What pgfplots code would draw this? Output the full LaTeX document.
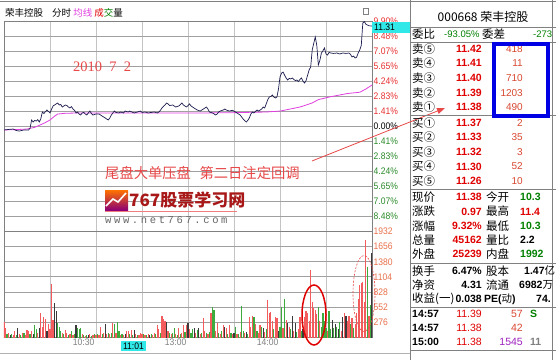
\documentclass[border=0pt]{standalone}
\usepackage{pgfplots}
\pgfplotsset{compat=1.18}
\usepackage{fontspec}
\setmainfont{Liberation Sans}
\newfontfamily\cjk{Noto Sans CJK SC}
\newfontfamily\narrow[FakeStretch=0.9]{Liberation Sans}
\newfontfamily\tms{Liberation Serif}
\newfontfamily\spmono[LetterSpace=25]{Liberation Mono}
\usetikzlibrary{arrows.meta}
\definecolor{vred}{HTML}{F25C5C}
\definecolor{vgreen}{HTML}{3CAA3C}
\definecolor{vdark}{HTML}{3A3A3A}
\definecolor{pline}{HTML}{1C1C50}
\definecolor{avgline}{HTML}{E040E0}
\definecolor{axred}{HTML}{E83030}
\definecolor{axgreen}{HTML}{2A8A2A}
\definecolor{volsal}{HTML}{E8704A}
\definecolor{pred}{HTML}{E00000}
\definecolor{pgreen}{HTML}{008000}
\definecolor{bookvol}{HTML}{D84830}
\definecolor{annred}{HTML}{E84848}
\definecolor{logored}{HTML}{A81818}
\definecolor{cyanbox}{HTML}{30E8E8}
\definecolor{gridh}{HTML}{A0A0A0}
\definecolor{gridv}{HTML}{C4C4C4}
\definecolor{panelline}{HTML}{808080}
\definecolor{lpurple}{HTML}{A020C0}
\begin{document}
\begin{tikzpicture}
\useasboundingbox (0pt,0pt) rectangle (556pt,360pt);
\fill[white] (0pt,0pt) rectangle (556pt,360pt);

% ---------------- price panel ----------------
\begin{axis}[
  at={(4pt,128.5pt)}, anchor=south west, scale only axis,
  width=368pt, height=210.5pt,
  xmin=0, xmax=240, ymin=-9.9, ymax=9.9,
  xtick={0,30,...,240}, xticklabels={},
  ytick={-8.486,-7.071,-5.657,-4.243,-2.829,-1.414,0,1.414,2.829,4.243,5.657,7.071,8.486,9.9},
  yticklabels={\textcolor{axgreen}{8.48\%},\textcolor{axgreen}{7.07\%},\textcolor{axgreen}{5.65\%},\textcolor{axgreen}{4.24\%},\textcolor{axgreen}{2.83\%},\textcolor{axgreen}{1.41\%},\textcolor{black}{0.00\%},\textcolor{axred}{1.41\%},\textcolor{axred}{2.83\%},\textcolor{axred}{4.24\%},\textcolor{axred}{5.65\%},\textcolor{axred}{7.07\%},\textcolor{axred}{8.48\%},\textcolor{axred}{9.90\%}},
  yticklabel pos=right,
  yticklabel style={font=\narrow\fontsize{9.5}{10}\selectfont, inner sep=1.5pt},
  xmajorgrids, ymajorgrids,
  x grid style={gridv, line width=0.6pt},
  y grid style={gridh, line width=0.9pt},
  major tick length=0pt,
  axis line style={panelline, line width=0.6pt},
]
\addplot[avgline, line width=0.8pt] coordinates {
(0,-0.35) (10,-0.30) (15,-0.26) (20,-0.10) (23.5,0.12) (27,0.35) (30,0.59) (33,0.95) (35,1.15) (40,1.22) (48,1.25) (60,1.25) (100,1.25) (130,1.25) (150,1.28) (171,1.34) (180,1.43) (186,1.60) (193,1.81) (201,2.19) (205,2.50) (212,2.75) (224,3.08) (232,3.20) (236,3.50) (240,3.88)
};
\addplot[pline, line width=0.7pt] coordinates {
(0,-0.35) (3,-0.30) (6,-0.26) (8,-0.40) (10,-0.45) (13,-0.35) (16,-0.35) (17,-0.20) (18,0.59) (19,0.40) (20,0.55) (21,0.49) (22,0.62) (23,0.40) (24,0.70) (25,1.34) (26,1.20) (28,1.53) (30,1.25) (31,1.60) (32,1.91) (34,2.10) (35,2.19) (36,2.00) (37,2.05) (38,1.81) (40,2.00) (41,1.95) (42,1.81) (43,1.72) (44,1.85) (45,1.62) (46,1.50) (47,1.25) (48,1.34) (49,1.15) (50,1.06) (51,1.25) (52,1.30) (53,1.15) (54,1.06) (55,1.25) (56,1.43) (57,1.20) (58,1.06) (60,1.15) (62,1.15) (63,1.06) (64,0.96) (65,0.87) (66,0.78) (67,0.68) (68,0.59) (69,0.78) (70,1.06) (71,1.25) (72,1.43) (73,1.30) (75,1.25) (76,1.34) (78,1.25) (79,1.43) (81,1.34) (82,1.43) (84,1.30) (85,1.25) (87,1.34) (89,1.43) (90,1.30) (92,1.34) (94,1.25) (96,1.30) (98,1.34) (100,1.25) (101,1.34) (102,1.50) (103,1.72) (105,2.00) (106,2.19) (107,2.10) (108,1.95) (110,2.00) (112,1.81) (114,1.91) (116,2.19) (117,2.00) (119,1.81) (120,1.95) (121,2.10) (122,1.91) (123,1.81) (125,1.62) (126,1.53) (128,1.43) (129,1.53) (130,1.62) (132,1.81) (133,1.62) (134,1.34) (136,1.25) (138,1.06) (139,1.15) (140,1.34) (141,1.43) (143,1.53) (144,1.62) (145,1.53) (147,1.43) (149,1.50) (151,1.34) (153,1.15) (154,1.06) (155,0.87) (156,0.68) (158,0.40) (159,0.55) (160,0.78) (161,1.15) (162,1.34) (163,1.25) (165,1.53) (166,1.43) (168,1.62) (169,1.81) (170,1.72) (171,2.10) (172,2.50) (173,2.75) (174,2.80) (175,2.94) (176,2.75) (177,2.66) (178,2.75) (179,3.50) (180,4.63) (181,5.00) (182,5.10) (183,4.80) (184,4.54) (185,4.35) (186,4.50) (187,4.45) (188,4.54) (189,4.40) (190,4.30) (191,4.35) (192,4.20) (193,4.40) (194,4.54) (195,4.25) (196,4.07) (197,4.30) (198,4.80) (199,5.30) (200,5.57) (201,7.17) (202,7.80) (203,8.40) (204,7.60) (205,5.76) (206,6.20) (207,6.89) (208,7.10) (209,7.36) (210,6.80) (211,6.70) (212,6.95) (213,6.89) (215,6.85) (217,6.89) (219,6.80) (221,6.89) (223,6.85) (225,6.89) (226,6.75) (227,6.52) (228,6.60) (229,6.42) (230,6.50) (231,6.90) (232,7.17) (233,7.60) (234,9.71) (235,9.85) (236,9.60) (237,9.52) (238,9.45) (240,9.43)
};
\end{axis}

% ---------------- volume panel ----------------
\begin{axis}[
  at={(4pt,22.5pt)}, anchor=south west, scale only axis,
  width=368pt, height=106pt,
  xmin=0, xmax=240, ymin=0, ymax=1932,
  xtick={0,30,...,240}, xticklabels={,,10:30,,13:00,,14:00,,},
  xticklabel style={anchor=north east, font=\narrow\fontsize{9.5}{10}\selectfont, text=gray, inner sep=1.5pt},
  ytick={276,552,828,1104,1380,1656,1932},
  yticklabels={276,552,828,1104,1380,1656,1932},
  yticklabel pos=right,
  yticklabel style={font=\narrow\fontsize{9.5}{10}\selectfont, text=volsal, inner sep=1.5pt},
  xmajorgrids, ymajorgrids,
  x grid style={gridv, line width=0.6pt},
  y grid style={gridh, line width=0.9pt},
  major tick length=0pt,
  axis line style={panelline, line width=0.6pt},
]
\addplot[ycomb, draw=vred, line width=1.25pt] coordinates {
(0,275) (1,180) (3,90) (6,50) (7,110) (10,60) (12,80) (14,40) (15,130) (16,120) (18,110) (22,90) (24,440) (25,200) (26,370) (27,330) (29,250) (30,160) (31,970) (32,310) (38,80) (40,130) (41,90) (43,70) (45,50) (51,60) (53,30) (56,60) (58,50) (60,40) (62,50) (63,190) (65,80) (67,70) (69,60) (71,270) (73,90) (76,50) (78,40) (80,120) (81,110) (83,130) (86,60) (88,50) (89,90) (90,70) (92,40) (94,60) (97,50) (98,80) (100,220) (101,150) (103,400) (104,330) (105,300) (107,120) (109,60) (112,60) (114,180) (116,90) (117,220) (119,220) (121,150) (125,90) (128,60) (130,350) (131,120) (133,70) (135,450) (138,120) (139,260) (141,70) (143,220) (145,180) (147,220) (149,60) (152,70) (154,100) (157,90) (160,370) (161,200) (162,400) (164,250) (166,90) (167,220) (170,100) (172,680) (173,450) (174,460) (175,300) (177,370) (178,350) (182,180) (184,310) (186,200) (189,120) (192,150) (193,380) (196,370) (197,490) (198,440) (199,300) (200,1230) (201,640) (202,530) (203,500) (204,420) (206,300) (211,120) (220,120) (222,440) (224,300) (225,400) (227,350) (229,250) (230,450) (231,700) (232,950) (233,1000) (234,1010) (235,650) (236,1780) (238,400)
};
\addplot[ycomb, draw=vgreen, line width=1.25pt] coordinates {
(2,60) (5,70) (8,40) (11,50) (13,90) (17,70) (20,220) (21,150) (35,270) (36,200) (37,120) (39,60) (42,40) (44,110) (46,60) (48,180) (49,150) (50,170) (52,40) (54,50) (57,30) (59,70) (61,60) (64,60) (68,90) (70,80) (72,250) (74,280) (75,120) (77,60) (82,60) (84,50) (87,40) (91,60) (93,50) (96,70) (99,60) (102,90) (108,80) (110,90) (111,170) (113,50) (115,70) (118,100) (122,80) (123,150) (126,130) (129,80) (132,90) (134,100) (136,550) (137,500) (140,90) (142,120) (146,60) (148,90) (151,190) (153,60) (155,570) (156,120) (159,70) (163,380) (165,110) (168,200) (171,150) (176,150) (180,200) (181,550) (183,710) (187,150) (191,100) (194,120) (205,550) (207,200) (208,440) (209,300) (210,180) (212,490) (213,150) (215,180) (217,200) (219,280) (226,250) (228,180) (237,1280) (239,600)
};
\addplot[ycomb, draw=vdark, line width=1.25pt] coordinates {
(4,40) (9,180) (19,60) (23,180) (28,120) (33,620) (34,480) (47,220) (55,40) (66,250) (79,70) (85,130) (95,40) (106,280) (120,270) (124,180) (127,170) (144,200) (150,80) (158,100) (169,180) (179,120) (185,260) (188,400) (190,260) (195,150) (214,310) (216,250) (218,150) (221,380) (223,400) (240,1545)
};
\end{axis}

\begin{scope}[x=1pt,y=1pt]
% frame lines
\draw[panelline, line width=1pt] (0,359) -- (556,359);
\draw[panelline, line width=0.8pt] (410,0) -- (410,360);
\draw[panelline, line width=0.8pt] (552.5,0) -- (552.5,360);
\draw[gray!60, line width=0.8pt] (0,7) -- (410,7);
\draw[panelline, line width=0.6pt] (363,346) rectangle (368,352);

% header
\node[anchor=west, inner sep=0, font=\cjk\fontsize{9.5}{10}\selectfont] at (5,347) {荣丰控股};
\node[anchor=west, inner sep=0, font=\cjk\fontsize{9.5}{10}\selectfont] at (52,347) {分时 \textcolor{avgline}{均线} \textcolor{pred}{成}\textcolor{pgreen}{交}量};

% cursor price box
\fill[cyanbox] (372,327.5) rectangle (410,338.5);
\node[anchor=west, inner sep=0, font=\narrow\fontsize{9.5}{10}\selectfont] at (374,333) {11.31};
\fill[cyanbox] (121,9) rectangle (146,19.5);
\node[anchor=center, inner sep=0, font=\narrow\fontsize{9.5}{10}\selectfont] at (133.5,14.2) {11:01};

% annotations
\node[anchor=west, inner sep=0, text=annred, font=\tms\fontsize{14.5}{15}\selectfont] at (73,293) {2010\ \ 7\ \ 2};
\node[anchor=west, inner sep=0, text=annred, font=\cjk\fontsize{14.3}{15}\selectfont] at (105,187) {尾盘大单压盘\hspace{0.6em}第二日注定回调};
\draw[annred, line width=0.8pt, -{Triangle[length=8pt,width=6pt]}] (312,199) -- (445,252);

% logo
\shade[top color=orange!90!red, bottom color=violet!80!purple] (105,150) rectangle (128,170);
\draw[white, line width=1.6pt] (106,154) -- (113,161) -- (118,158) -- (126,167);
\node[anchor=west, inner sep=0, text=logored, font=\cjk\bfseries\fontsize{17}{18}\selectfont] at (129,160.5) {767股票学习网};
\draw[annred!70, line width=1pt] (105,149) -- (237,149);
\node[anchor=west, inner sep=0, text=gray!80!black, font=\spmono\fontsize{10.5}{11}\selectfont] at (105,140) {www.net767.com};

% ellipses on volume
\draw[pred, line width=1.5pt] (314,45) ellipse [x radius=12, y radius=30];
\draw[annred, line width=0.6pt, dash pattern=on 2pt off 1.5pt] (364,66.5) ellipse [x radius=11, y radius=38];

% ---------------- right panel ----------------
\begin{scope}
\clip (410,0) rectangle (556,360);
\draw[panelline, line width=0.8pt] (410,333) -- (556,333);
\draw[panelline, line width=0.8pt] (410,318) -- (556,318);
\draw[panelline, line width=0.8pt] (410,244.5) -- (556,244.5);
\draw[panelline, line width=0.8pt] (410,171) -- (556,171);
\draw[panelline, line width=0.8pt] (410,97) -- (556,97);
\draw[panelline, line width=0.8pt] (410,53) -- (556,53);
\draw[panelline, line width=0.8pt] (410,10) -- (556,10);

\node[inner sep=0, font=\cjk\fontsize{12}{13}\selectfont] at (483,343) {000668 荣丰控股};
\node[anchor=west, inner sep=0, font=\cjk\fontsize{11.5}{12}\selectfont] at (412,326) {委比};
\node[anchor=west, inner sep=0, text=pgreen, font=\fontsize{9.5}{10}\selectfont] at (444,326) {-93.05\%};
\node[anchor=west, inner sep=0, font=\cjk\fontsize{11.5}{12}\selectfont] at (482,326) {委差};
\node[anchor=west, inner sep=0, text=pgreen, font=\fontsize{9.5}{10}\selectfont] at (533,326) {-273};

% order book
\foreach \lab/\pr/\vo/\yy in {卖⑤/11.42/418/310.7, 卖④/11.41/11/296.7, 卖③/11.40/710/281.7, 卖②/11.39/1203/267.3, 卖①/11.38/490/252.7, 买①/11.37/2/237, 买②/11.33/35/223, 买③/11.32/3/208, 买④/11.30/52/193.5, 买⑤/11.26/10/179} {
  \node[anchor=west, inner sep=0, font=\cjk\fontsize{11.5}{12}\selectfont] at (412,\yy) {\lab};
  \node[anchor=east, inner sep=0, text=pred, font=\bfseries\fontsize{10.5}{11}\selectfont] at (482,\yy) {\pr};
  \node[anchor=east, inner sep=0, text=bookvol, font=\fontsize{10}{11}\selectfont] at (523,\yy) {\vo};
}
\draw[blue!90!black, line width=4pt] (494,316) rectangle (548,244);

% stats
\foreach \la/\va/\ca/\lb/\vb/\cb/\yy in {现价/11.38/pred/今开/10.3/pgreen/163, 涨跌/0.97/pred/最高/11.4/pred/148.5, 涨幅/9.32\%/pred/最低/10.3/pgreen/134, 总量/45162/pred/量比/2.2/black/120, 外盘/25239/pred/内盘/1992/pgreen/106} {
  \node[anchor=west, inner sep=0, font=\cjk\fontsize{11.5}{12}\selectfont] at (412,\yy) {\la};
  \node[anchor=east, inner sep=0, text=\ca, font=\bfseries\fontsize{10.5}{11}\selectfont] at (482,\yy) {\va};
  \node[anchor=west, inner sep=0, font=\cjk\fontsize{11.5}{12}\selectfont] at (486,\yy) {\lb};
  \node[anchor=west, inner sep=0, text=\cb, font=\bfseries\fontsize{10.5}{11}\selectfont] at (520,\yy) {\vb};
}
\node[anchor=west, inner sep=0, font=\cjk\fontsize{11.5}{12}\selectfont] at (412,89) {换手};
\node[anchor=east, inner sep=0, font=\bfseries\fontsize{10.5}{11}\selectfont] at (482,89) {6.47\%};
\node[anchor=west, inner sep=0, font=\cjk\fontsize{11.5}{12}\selectfont] at (486,89) {股本};
\node[anchor=west, inner sep=0, font=\bfseries\fontsize{10.5}{11}\selectfont] at (524,89) {1.47{\cjk\mdseries 亿}};
\node[anchor=west, inner sep=0, font=\cjk\fontsize{11.5}{12}\selectfont] at (412,75) {净资};
\node[anchor=east, inner sep=0, font=\bfseries\fontsize{10.5}{11}\selectfont] at (482,75) {4.31};
\node[anchor=west, inner sep=0, font=\cjk\fontsize{11.5}{12}\selectfont] at (486,75) {流通};
\node[anchor=west, inner sep=0, font=\bfseries\fontsize{10.5}{11}\selectfont] at (519,75) {6982{\cjk\mdseries 万}};
\node[anchor=west, inner sep=0, font=\cjk\fontsize{11.5}{12}\selectfont] at (412,61) {收益(一)};
\node[anchor=east, inner sep=0, font=\bfseries\fontsize{10.5}{11}\selectfont] at (482,61) {0.038};
\node[anchor=west, inner sep=0, font=\bfseries\fontsize{10.5}{11}\selectfont] at (484,61) {PE({\cjk\mdseries 动})};
\node[anchor=west, inner sep=0, font=\bfseries\fontsize{10.5}{11}\selectfont] at (536,61) {74.};

% ticks
\foreach \tt/\pr/\vo/\cv/\ex/\ce/\yy in {14:57/11.39/57/bookvol/S/pgreen/46.5, 14:57/11.38/42/bookvol//black/32, 15:00/11.38/1545/lpurple/11/gray/18} {
  \node[anchor=west, inner sep=0, font=\bfseries\fontsize{10.5}{11}\selectfont] at (412,\yy) {\tt};
  \node[anchor=east, inner sep=0, text=pred, font=\fontsize{10.5}{11}\selectfont] at (482,\yy) {\pr};
  \node[anchor=east, inner sep=0, text=\cv, font=\fontsize{10.5}{11}\selectfont] at (523,\yy) {\vo};
  \node[anchor=west, inner sep=0, text=\ce, font=\bfseries\fontsize{10.5}{11}\selectfont] at (530,\yy) {\ex};
}
\end{scope}
\end{scope}
\end{tikzpicture}
\end{document}
